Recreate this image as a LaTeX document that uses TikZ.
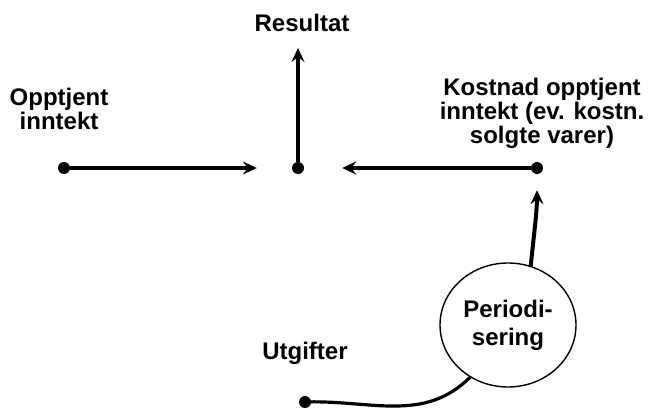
\documentclass[tikz,border=0pt]{standalone}
\usepackage{fontspec}
\setmainfont{Liberation Sans}
\usetikzlibrary{arrows.meta,shapes.geometric}
\begin{document}
\begin{tikzpicture}[x=1pt,y=1pt,
  lbl/.style={font=\fontsize{24}{24}\selectfont\bfseries, align=center, inner sep=0pt},
  dot/.style={circle, fill=black, inner sep=0pt, minimum size=12pt},
  arr/.style={line width=4pt, -{Stealth[length=14pt,width=13pt,inset=5pt]}},
  thin line/.style={line width=3.2pt}
]
\useasboundingbox (0,0) rectangle (650,408);
\node[lbl] (res) at (302,385) {Resultat};
\node[lbl] (opp) at (59,299) {Opptjent\\inntekt};
\node[lbl] (kost) at (542,295) {Kostnad opptjent\\inntekt (ev. kostn.\\solgte varer)};
\node[lbl] (utg) at (305,55) {Utgifter};
\node[dot] (ldot) at (64,240) {};
\node[dot] (cdot) at (298,240) {};
\node[dot] (rdot) at (537,240) {};
\node[dot] (udot) at (305,6) {};
\coordinate (rtip) at (298,360);
\node[ellipse, draw, line width=1.4pt, minimum width=136pt, minimum height=124pt, inner sep=0pt,
  font=\fontsize{24}{28}\selectfont\bfseries, align=center] (per) at (508,83) {Periodi-\\sering};
\draw[arr] (ldot) -- (cdot) [shorten >=35pt];
\draw[arr] (rdot) -- (cdot) [shorten >=38pt];
\draw[arr] (cdot) -- (rtip);
\draw[arr, shorten >=16pt] (per.69) to[out=84,in=-90] (rdot);
\draw[thin line] (udot.center) to[out=2,in=-135] (per.-126);
\end{tikzpicture}
\end{document}
